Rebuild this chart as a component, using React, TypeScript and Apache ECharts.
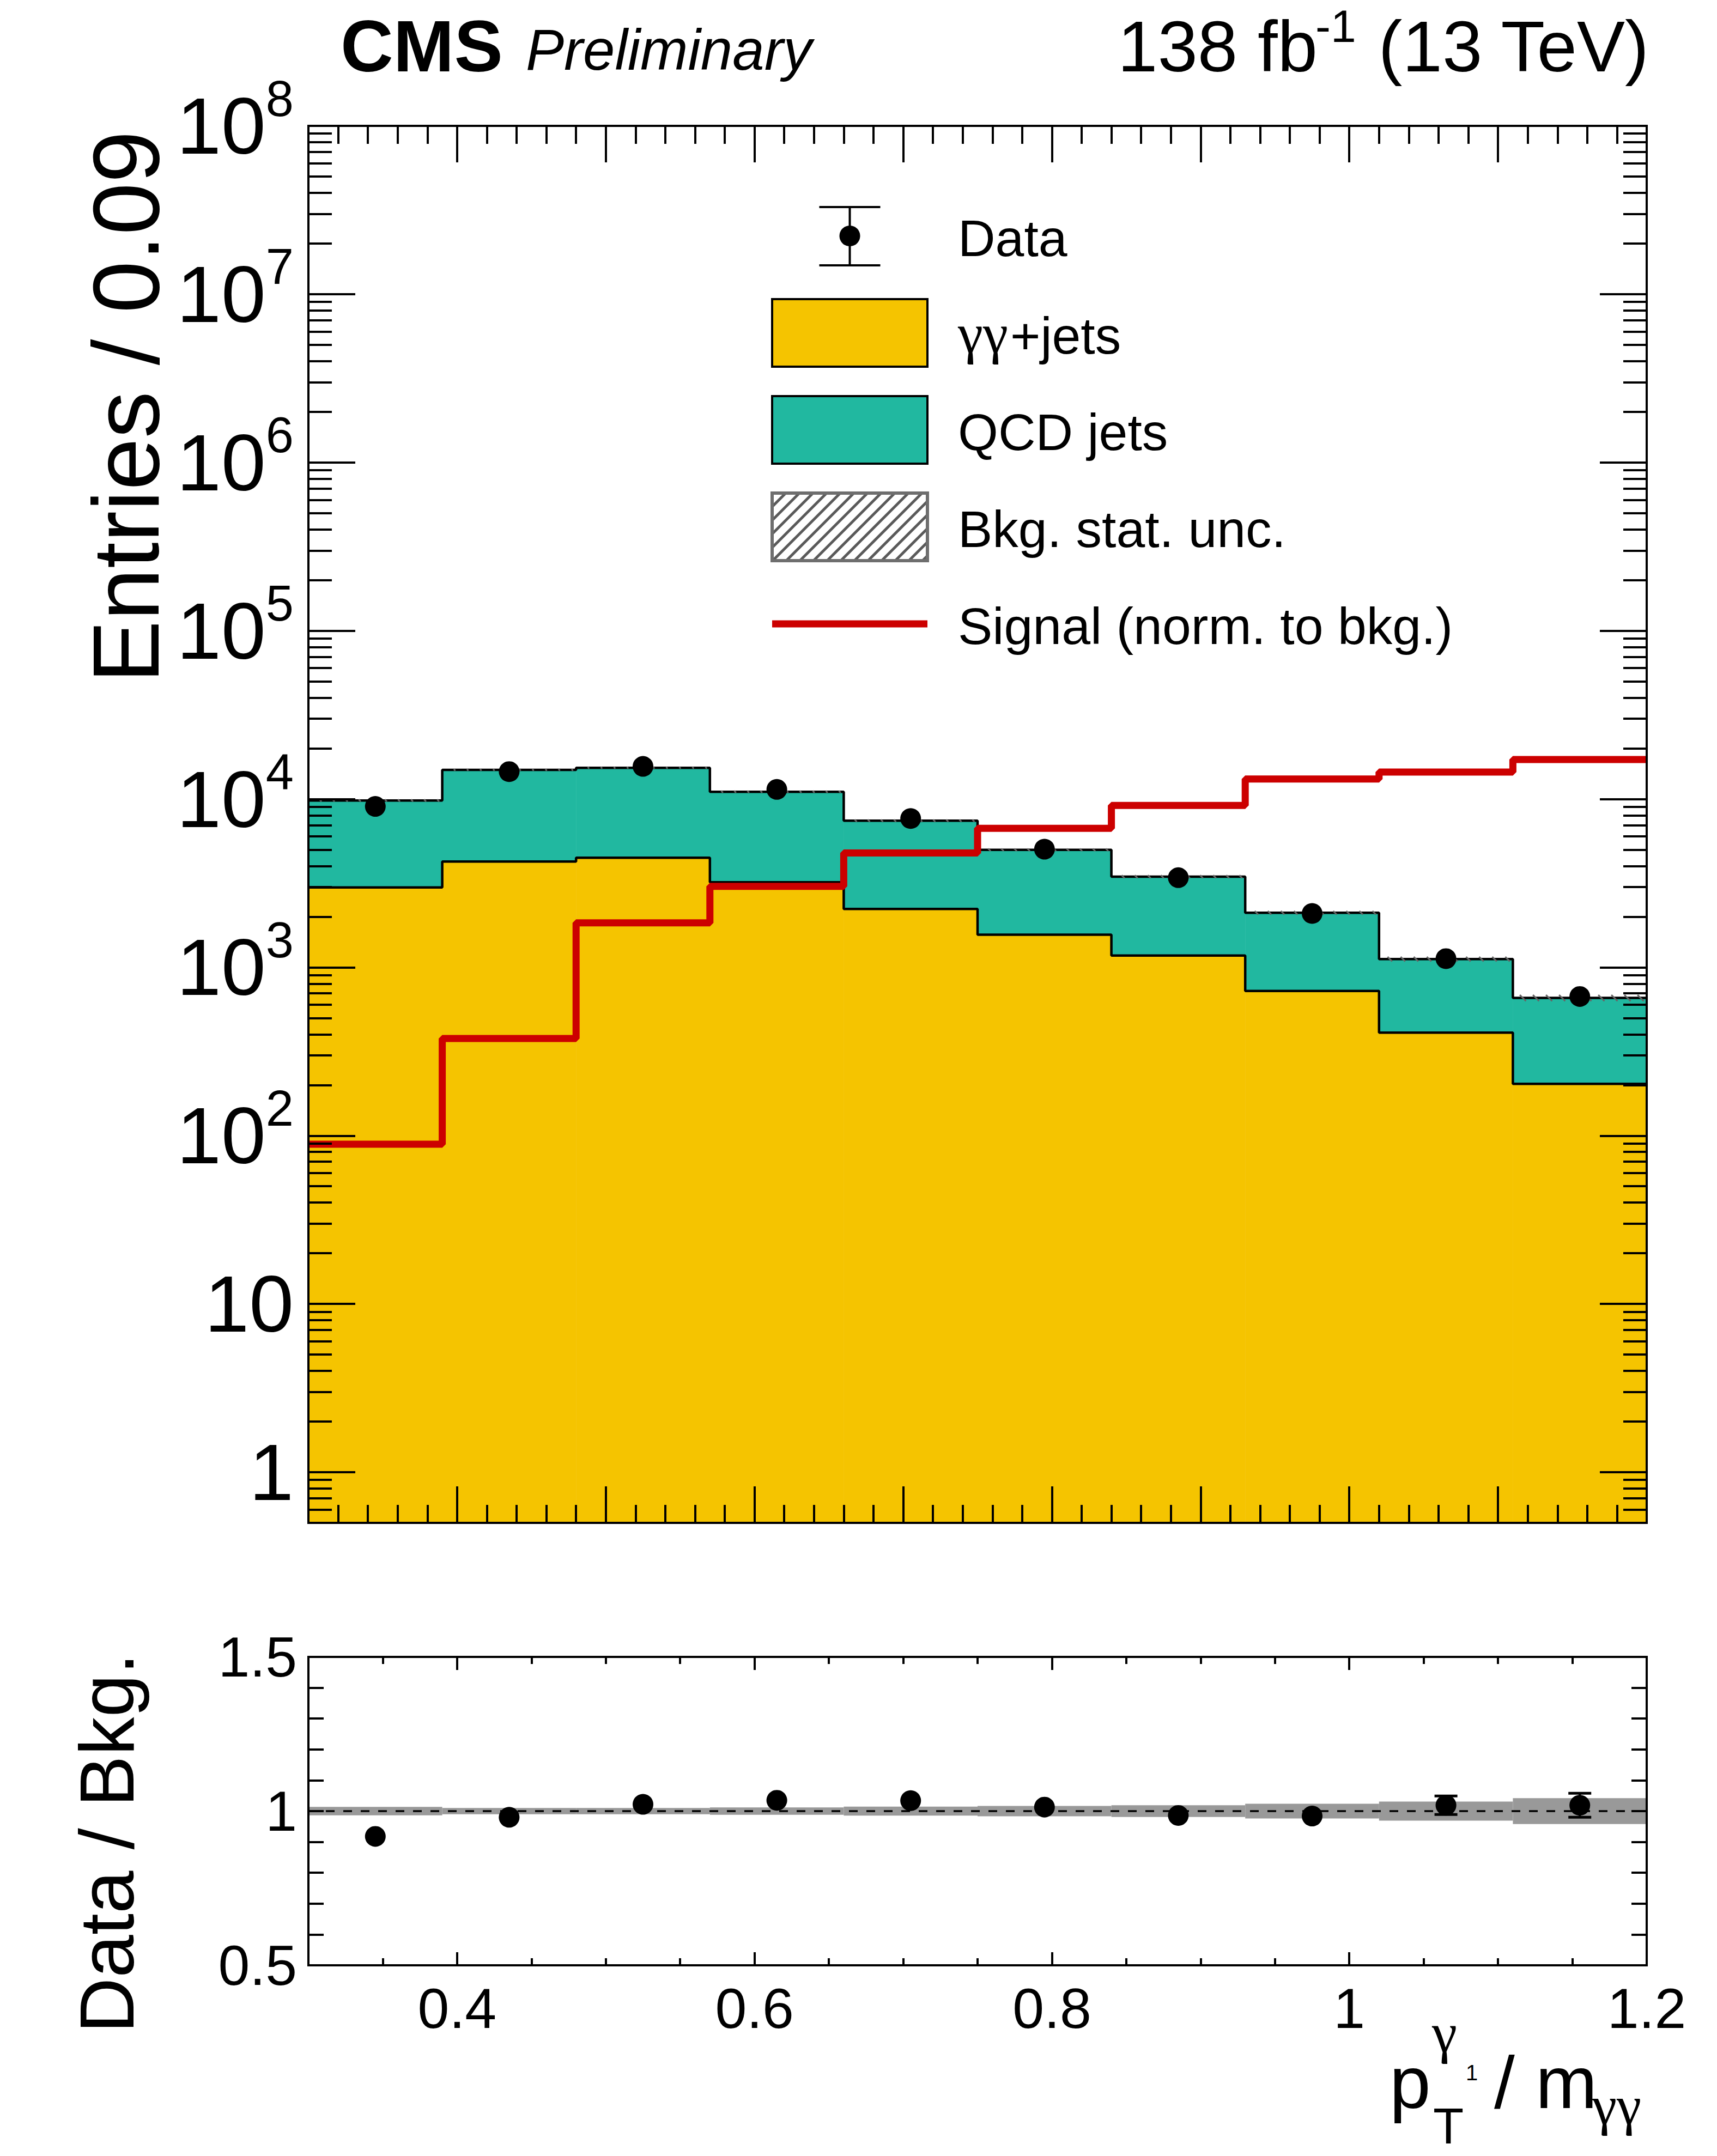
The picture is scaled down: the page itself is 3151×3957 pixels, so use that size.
import React, { useEffect, useRef } from "react";
import * as echarts from "echarts";

// ---------------- data ----------------
const binEdges = [0.3, 0.39, 0.48, 0.57, 0.66, 0.75, 0.84, 0.93, 1.02, 1.11, 1.2];
const gammaGammaJets = [2985, 4250, 4480, 3205, 2223, 1563, 1175, 724, 409, 203];
const qcdJets = [6815, 10650, 10850, 7835, 5217, 3427, 2285, 1386, 711, 455];
const dataCounts = [9040, 14550, 15630, 11410, 7660, 5035, 3410, 2090, 1126, 671];
const signalNormToBkg = [89, 378, 1839, 3030, 4780, 6700, 9170, 13150, 14470, 17180];
const bkgStatRelUnc = [0.0135, 0.01, 0.01, 0.012, 0.0144, 0.017, 0.019, 0.024, 0.031, 0.042];
const ratioDataBkg = [0.918, 0.98, 1.022, 1.035, 1.034, 1.013, 0.986, 0.984, 1.019, 1.019];
const ratioDataErr = [0.011, 0.008, 0.008, 0.009, 0.011, 0.014, 0.017, 0.022, 0.03, 0.039];

// tick values
const mainYMajorTicks = [1, 10, 100, 1e3, 1e4, 1e5, 1e6, 1e7, 1e8];
const mainYMinorMantissas = [2, 3, 4, 5, 6, 7, 8, 9];
const mainYMinorDecades = [0.1, 1, 10, 100, 1e3, 1e4, 1e5, 1e6, 1e7];
const ratioXLabelTicks = [0.4, 0.6, 0.8, 1, 1.2];
const ratioXMinorTicks = [0.35, 0.45, 0.5, 0.55, 0.65, 0.7, 0.75, 0.85, 0.9, 0.95, 1.05, 1.1, 1.15];
const ratioYLabelTicks = [0.5, 1, 1.5];

// ---------------- layout / style ----------------
const W = 3151;
const H = 3957;
const FL = 566;
const FW = 2456;
const MT = 231;
const MH = 2564;
const RT = 3041;
const RH = 566;
const FF = '"Liberation Sans", Arial, Helvetica, sans-serif';
const FS = '"Liberation Serif", "Times New Roman", serif';
const YELLOW = "#f5c400";
const TEAL = "#21b8a0";
const RED = "#cc0000";
const tickLine = { color: "#000", width: 4 };

const mainYMinorTicks = mainYMinorDecades
  .flatMap((d) => mainYMinorMantissas.map((m) => parseFloat((m * d).toPrecision(6))))
  .filter((v) => v > 0.5 && v < 1e8);

const centers = binEdges.slice(0, -1).map((e, i) => (e + binEdges[i + 1]) / 2);
const stepData = (vals: number[]) => binEdges.map((e, i) => [e, vals[Math.min(i, vals.length - 1)]]);
const totals = gammaGammaJets.map((g, i) => g + qcdJets[i]);

const fmtNum = (v: any) => String(parseFloat(Number(v).toFixed(2)));

const logLabel = (v: any) => {
  const val = Number(v);
  const e = Math.round(Math.log10(val));
  if (Math.abs(val - Math.pow(10, e)) > 1e-6 * Math.pow(10, e)) return "";
  if (e === 0) return "{b|1}";
  if (e === 1) return "{b|10}";
  return `{b|10}{s|${e}}`;
};

function xAxisMain(position: string) {
  return {
    type: "value", gridIndex: 0, position, min: 0.3, max: 1.2, interval: 0.1, z: 10,
    axisLine: { show: false }, splitLine: { show: false },
    axisTick: { show: true, inside: true, length: 67, lineStyle: tickLine },
    minorTick: { show: true, splitNumber: 5, length: 33, lineStyle: tickLine },
    axisLabel: { show: false },
  };
}

function xAxisRatio(position: string, ticks: number[], len: number, labels: boolean) {
  return {
    type: "value", gridIndex: 1, position, min: 0.3, max: 1.2, z: 10,
    axisLine: { show: false }, splitLine: { show: false },
    axisTick: { show: true, inside: true, length: len, lineStyle: tickLine, customValues: ticks },
    axisLabel: labels
      ? { show: true, customValues: ticks, margin: 27, fontSize: 104, fontFamily: FF, color: "#000", formatter: fmtNum }
      : { show: false },
  };
}

function yAxisLog(position: string, ticks: number[], len: number, labels: boolean) {
  return {
    type: "log", logBase: 10, gridIndex: 0, position, min: 0.5, max: 1e8, z: 10,
    axisLine: { show: false }, splitLine: { show: false }, minorTick: { show: false },
    axisTick: { show: true, inside: true, length: len, lineStyle: tickLine, customValues: ticks },
    axisLabel: labels
      ? {
          show: true, customValues: mainYMajorTicks, margin: 27, color: "#000", fontFamily: FF, fontSize: 147,
          formatter: logLabel,
          rich: {
            b: { fontFamily: FF, fontSize: 147, lineHeight: 147, color: "#000", verticalAlign: "bottom" },
            s: { fontFamily: FF, fontSize: 92, lineHeight: 92, color: "#000", verticalAlign: "bottom", padding: [0, 0, 78, 0] },
          },
        }
      : { show: false },
  };
}

function yAxisRatio(position: string, labels: boolean) {
  return {
    type: "value", gridIndex: 1, position, min: 0.5, max: 1.5, interval: 0.1, z: 10,
    axisLine: { show: false }, splitLine: { show: false },
    axisTick: { show: true, inside: true, length: 28, lineStyle: tickLine },
    axisLabel: labels
      ? { show: true, customValues: ratioYLabelTicks, margin: 21, fontSize: 104, fontFamily: FF, color: "#000", formatter: fmtNum }
      : { show: false },
  };
}

function txt(x: number, baseline: number, size: number, text: string, opts: any = {}) {
  const { align = "left", weight = "normal", style = "normal", family = FF } = opts;
  return {
    type: "text", x, y: baseline - 0.3465 * size, z: 100,
    style: { text, font: `${style} ${weight} ${size}px ${family}`, fill: "#000", align, verticalAlign: "middle" },
  };
}

function hatchLines(left: number, top: number, w: number, h: number, step: number, color: string, lw: number) {
  const out: any[] = [];
  for (let d = -h; d < w; d += step) {
    const tmin = Math.max(0, -d);
    const tmax = Math.min(h, w - d);
    if (tmax <= tmin) continue;
    out.push({
      type: "line", z: 100,
      shape: { x1: left + d + tmin, y1: top + h - tmin, x2: left + d + tmax, y2: top + h - tmax },
      style: { stroke: color, lineWidth: lw },
    });
  }
  return out;
}

function buildGraphic() {
  const LX = 1417, LW = 285, LH = 124, TX = 1758;
  const rows = [433, 611, 789, 967, 1145];
  const els: any[] = [];
  // header
  els.push(txt(625, 131, 134, "CMS", { weight: "bold" }));
  els.push(txt(965, 128, 105, "Preliminary", { style: "italic" }));
  els.push(txt(2418, 131, 132, "138 fb", { align: "right" }));
  els.push(txt(2414, 77, 84, "-1"));
  els.push(txt(3026, 131, 132, "(13 TeV)", { align: "right" }));
  // legend: Data
  const cx = LX + LW / 2;
  els.push({ type: "line", z: 100, shape: { x1: cx, y1: rows[0] - 53, x2: cx, y2: rows[0] + 54 }, style: { stroke: "#000", lineWidth: 4 } });
  els.push({ type: "line", z: 100, shape: { x1: cx - 56, y1: rows[0] - 53, x2: cx + 56, y2: rows[0] - 53 }, style: { stroke: "#000", lineWidth: 4 } });
  els.push({ type: "line", z: 100, shape: { x1: cx - 56, y1: rows[0] + 54, x2: cx + 56, y2: rows[0] + 54 }, style: { stroke: "#000", lineWidth: 4 } });
  els.push({ type: "circle", z: 101, shape: { cx, cy: rows[0], r: 19 }, style: { fill: "#000" } });
  els.push(txt(TX, rows[0] + 4 + 0.3465 * 95, 95, "Data"));
  // yy+jets
  els.push({ type: "rect", z: 100, shape: { x: LX, y: rows[1] - LH / 2, width: LW, height: LH }, style: { fill: YELLOW, stroke: "#000", lineWidth: 4 } });
  els.push({
    type: "text", x: TX, y: rows[1] - 3, z: 100,
    style: {
      text: "{g|γγ}{t|+jets}", fill: "#000", align: "left", verticalAlign: "middle", font: `normal normal 95px ${FF}`,
      rich: {
        g: { fontFamily: FS, fontSize: 104, lineHeight: 110, fill: "#000", verticalAlign: "bottom", padding: [0, 4, 0, 0] },
        t: { fontFamily: FF, fontSize: 95, lineHeight: 110, fill: "#000", verticalAlign: "bottom" },
      },
    },
  });
  // QCD
  els.push({ type: "rect", z: 100, shape: { x: LX, y: rows[2] - LH / 2, width: LW, height: LH }, style: { fill: TEAL, stroke: "#000", lineWidth: 4 } });
  els.push(txt(TX, rows[2] + 4 + 0.3465 * 95, 95, "QCD jets"));
  // Bkg stat unc
  els.push({ type: "rect", z: 99, shape: { x: LX, y: rows[3] - LH / 2, width: LW, height: LH }, style: { fill: "#fff" } });
  hatchLines(LX, rows[3] - LH / 2, LW, LH, 25, "#5a5a5a", 5).forEach((l) => els.push(l));
  els.push({ type: "rect", z: 102, shape: { x: LX, y: rows[3] - LH / 2, width: LW, height: LH }, style: { fill: "none", stroke: "#6e6e6e", lineWidth: 6 } });
  els.push(txt(TX, rows[3] + 4 + 0.3465 * 95, 95, "Bkg. stat. unc."));
  // Signal
  els.push({ type: "line", z: 100, shape: { x1: LX, y1: rows[4], x2: LX + LW, y2: rows[4] }, style: { stroke: RED, lineWidth: 13 } });
  els.push(txt(TX, rows[4] + 4 + 0.3465 * 95, 95, "Signal (norm. to bkg.)"));
  // y axis titles
  els.push({
    type: "text", x: 231, y: 240, rotation: Math.PI / 2, z: 100,
    style: { text: "Entries / 0.09", font: `normal normal 172px ${FF}`, fill: "#000", align: "right", verticalAlign: "middle" },
  });
  els.push({
    type: "text", x: 196, y: 3034, rotation: Math.PI / 2, z: 100,
    style: { text: "Data / Bkg.", font: `normal normal 141px ${FF}`, fill: "#000", align: "right", verticalAlign: "middle" },
  });
  // x axis title p_T^{gamma_1} / m_{gamma gamma}
  els.push(txt(2550, 3869, 136, "p"));
  els.push(txt(2630, 3934, 92, "T"));
  els.push(txt(2628, 3767, 104, "γ", { family: FS }));
  els.push(txt(2690, 3818, 40, "1"));
  els.push(txt(2742, 3869, 136, "/"));
  els.push(txt(2818, 3869, 136, "m"));
  els.push(txt(2922, 3899, 102, "γγ", { family: FS }));
  return els;
}

function buildOption() {
  const yellowFill = gammaGammaJets.map((g, i) => [binEdges[i], binEdges[i + 1], g]);
  const tealFill = qcdJets.map((q, i) => [binEdges[i], binEdges[i + 1], gammaGammaJets[i], totals[i]]);
  const hatchData = totals.map((t, i) => [binEdges[i], binEdges[i + 1], t, bkgStatRelUnc[i]]);
  const bandData = bkgStatRelUnc.map((u, i) => [binEdges[i], binEdges[i + 1], u]);
  const ratioErrData = ratioDataBkg.map((r, i) => [centers[i], r, ratioDataErr[i]]);

  return {
    animation: false,
    backgroundColor: "#fff",
    grid: [
      { left: FL, top: MT, width: FW, height: MH, show: true, borderColor: "#000", borderWidth: 4, backgroundColor: "transparent", z: 10 },
      { left: FL, top: RT, width: FW, height: RH, show: true, borderColor: "#000", borderWidth: 4, backgroundColor: "transparent", z: 10 },
    ],
    xAxis: [
      xAxisMain("bottom"),
      xAxisMain("top"),
      xAxisRatio("bottom", ratioXLabelTicks, 24, true),
      xAxisRatio("bottom", ratioXMinorTicks, 13, false),
      xAxisRatio("top", ratioXLabelTicks, 24, false),
      xAxisRatio("top", ratioXMinorTicks, 13, false),
    ],
    yAxis: [
      yAxisLog("left", mainYMajorTicks, 86, true),
      yAxisLog("left", mainYMinorTicks, 43, false),
      yAxisLog("right", mainYMajorTicks, 86, false),
      yAxisLog("right", mainYMinorTicks, 43, false),
      yAxisRatio("left", true),
      yAxisRatio("right", false),
    ],
    graphic: { elements: buildGraphic() },
    series: [
      {
        name: "γγ+jets", type: "custom", xAxisIndex: 0, yAxisIndex: 0, z: 1, clip: true,
        data: yellowFill, encode: { x: [0, 1], y: 2 },
        renderItem: (params: any, api: any) => {
          const p0 = api.coord([api.value(0), api.value(2)]);
          const p1 = api.coord([api.value(1), api.value(2)]);
          const bottom = params.coordSys.y + params.coordSys.height;
          return { type: "rect", shape: { x: p0[0], y: p0[1], width: p1[0] - p0[0] + 0.5, height: bottom - p0[1] }, style: { fill: YELLOW } };
        },
      },
      {
        name: "QCD jets", type: "custom", xAxisIndex: 0, yAxisIndex: 0, z: 1, clip: true,
        data: tealFill, encode: { x: [0, 1], y: [2, 3] },
        renderItem: (params: any, api: any) => {
          const p0 = api.coord([api.value(0), api.value(3)]);
          const p1 = api.coord([api.value(1), api.value(2)]);
          return { type: "rect", shape: { x: p0[0], y: p0[1], width: p1[0] - p0[0] + 0.5, height: p1[1] - p0[1] }, style: { fill: TEAL } };
        },
      },
      {
        name: "γγ+jets outline", type: "line", xAxisIndex: 0, yAxisIndex: 0, step: "end",
        data: stepData(gammaGammaJets), symbol: "none", showSymbol: false, z: 2,
        lineStyle: { color: "#000", width: 4.5 },
      },
      {
        name: "Total bkg outline", type: "line", xAxisIndex: 0, yAxisIndex: 0, step: "end",
        data: stepData(totals), symbol: "none", showSymbol: false, z: 2,
        lineStyle: { color: "#000", width: 4.5 },
      },
      {
        name: "Bkg. stat. unc.", type: "custom", xAxisIndex: 0, yAxisIndex: 0, z: 3, clip: true,
        data: hatchData, encode: { x: [0, 1], y: 2 },
        renderItem: (params: any, api: any) => {
          const tot = api.value(2), u = api.value(3);
          const pTL = api.coord([api.value(0), tot * (1 + u)]);
          const pBR = api.coord([api.value(1), tot * (1 - u)]);
          const h = pBR[1] - pTL[1];
          const w = pBR[0] - pTL[0];
          const children: any[] = [];
          for (let d = 0; d < w + h; d += 24) {
            const tmin = Math.max(0, d - w);
            const tmax = Math.min(h, d);
            if (tmax <= tmin) continue;
            children.push({
              type: "line",
              shape: { x1: pTL[0] + d - tmin, y1: pTL[1] + h - tmin, x2: pTL[0] + d - tmax, y2: pTL[1] + h - tmax },
              style: { stroke: "#666", lineWidth: 3 },
            });
          }
          return { type: "group", children };
        },
      },
      {
        name: "Signal (norm. to bkg.)", type: "line", xAxisIndex: 0, yAxisIndex: 0, step: "end",
        data: stepData(signalNormToBkg), symbol: "none", showSymbol: false, z: 4,
        lineStyle: { color: RED, width: 13 },
      },
      {
        name: "Data", type: "scatter", xAxisIndex: 0, yAxisIndex: 0, z: 5,
        data: dataCounts.map((v, i) => [centers[i], v]), symbol: "circle", symbolSize: 38,
        itemStyle: { color: "#000", opacity: 1 },
      },
      // ratio panel
      {
        name: "Bkg. unc. band", type: "custom", xAxisIndex: 2, yAxisIndex: 4, z: 1, clip: true,
        data: bandData, encode: { x: [0, 1], y: 2 },
        renderItem: (params: any, api: any) => {
          const u = api.value(2);
          const p0 = api.coord([api.value(0), 1 + u]);
          const p1 = api.coord([api.value(1), 1 - u]);
          return { type: "rect", shape: { x: p0[0], y: p0[1], width: p1[0] - p0[0], height: p1[1] - p0[1] }, style: { fill: "#999999" } };
        },
      },
      {
        name: "unity", type: "line", xAxisIndex: 2, yAxisIndex: 4, z: 2,
        data: [[binEdges[0], 1], [binEdges[binEdges.length - 1], 1]], symbol: "none", showSymbol: false,
        lineStyle: { color: "#000", width: 3.5, type: [16, 16] },
      },
      {
        name: "Ratio errors", type: "custom", xAxisIndex: 2, yAxisIndex: 4, z: 4, clip: true,
        data: ratioErrData, encode: { x: 0, y: 1 },
        renderItem: (params: any, api: any) => {
          const x = api.value(0), y = api.value(1), e = api.value(2);
          const pt = api.coord([x, y + e]);
          const pb = api.coord([x, y - e]);
          const half = (pb[1] - pt[1]) / 2;
          if (half <= 15) return { type: "group", children: [] };
          const c = pt[0];
          const cap = 21;
          return {
            type: "group",
            children: [
              { type: "line", shape: { x1: c, y1: pt[1], x2: c, y2: pb[1] }, style: { stroke: "#000", lineWidth: 4 } },
              { type: "line", shape: { x1: c - cap, y1: pt[1], x2: c + cap, y2: pt[1] }, style: { stroke: "#000", lineWidth: 5 } },
              { type: "line", shape: { x1: c - cap, y1: pb[1], x2: c + cap, y2: pb[1] }, style: { stroke: "#000", lineWidth: 5 } },
            ],
          };
        },
      },
      {
        name: "Data / Bkg.", type: "scatter", xAxisIndex: 2, yAxisIndex: 4, z: 5,
        data: ratioDataBkg.map((r, i) => [centers[i], r]), symbol: "circle", symbolSize: 38,
        itemStyle: { color: "#000", opacity: 1 },
      },
    ],
  };
}

export default function App() {
  const ref = useRef<HTMLDivElement>(null);
  useEffect(() => {
    document.body.style.margin = "0";
    if (!ref.current) return;
    const chart = echarts.init(ref.current, null, { renderer: "svg", width: W, height: H });
    chart.setOption(buildOption() as any);
    return () => chart.dispose();
  }, []);
  return <div ref={ref} style={{ position: "absolute", left: 0, top: 0, width: W, height: H, background: "#fff" }} />;
}
